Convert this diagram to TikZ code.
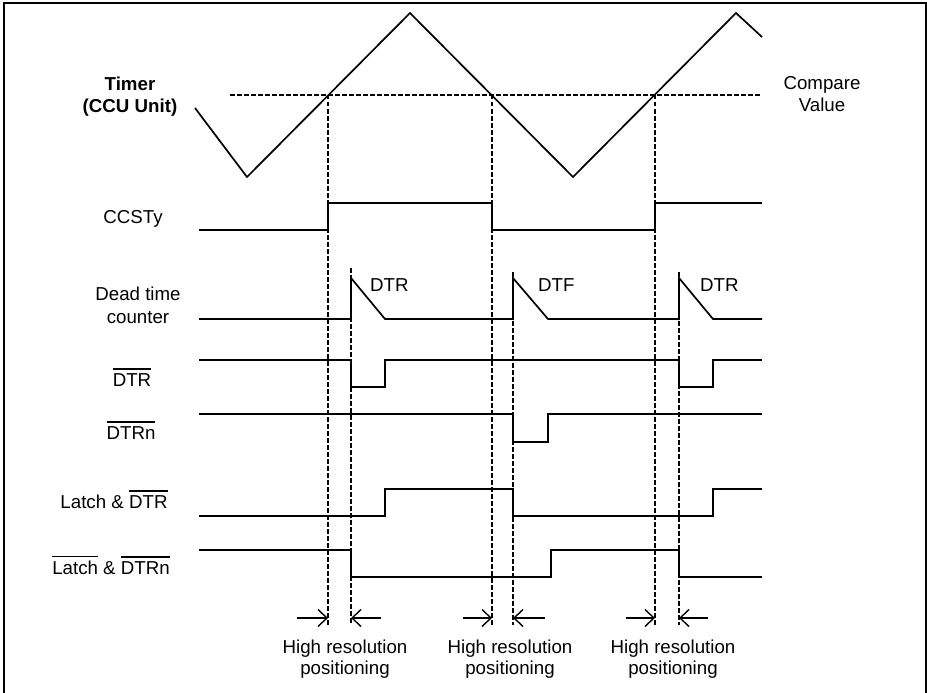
\documentclass[tikz,border=0pt]{standalone}
\usepackage{fontspec}
\setmainfont{Liberation Sans}
\usetikzlibrary{arrows.meta}
\newcommand\ovl[1]{\leavevmode\vbox{\hrule height 1.8pt\kern 3pt\hbox{#1}}}
\begin{document}
\begin{tikzpicture}[x=1pt,y=-1pt,
  sig/.style={line width=1.7pt, line join=miter},
  dsh/.style={line width=1.1pt, dash pattern=on 4.5pt off 2.5pt},
  lbl/.style={font=\fontsize{18.7}{21}\selectfont, inner sep=0pt, anchor=base},
  hr/.style={-{Straight Barb[length=9pt,width=17pt,line width=1.4pt]}, line width=1.4pt}]
\useasboundingbox (0,0) rectangle (927,693);
\draw[line width=1.8pt] (4,710) -- (4,3) -- (926,3) -- (926,710);

% coordinates of the timing edges
\coordinate (c1) at (328,95);
\coordinate (c2) at (492,95);
\coordinate (c3) at (655,95);
\coordinate (d1) at (351,268);
\coordinate (d2) at (513,272);
\coordinate (d3) at (679,272);

% timer triangle and compare value
\draw[dsh] (230,95) -- (762,95);
\draw[sig] (195,108) -- (247,177) -- (410,13) -- (573,177) -- (736,13) -- (762,37);
\node[lbl, font=\fontsize{18.7}{21}\selectfont\bfseries] (timer1) at (130,91) {Timer};
\node[lbl, font=\fontsize{18.7}{21}\selectfont\bfseries] (timer2) at (130,112) {(CCU Unit)};
\node[lbl] (cmp1) at (822,89) {Compare};
\node[lbl] (cmp2) at (822,111) {Value};

% dashed verticals
\draw[dsh] (c1) -- (328,625);
\draw[dsh] (c2) -- (492,625);
\draw[dsh] (c3) -- (655,625);
\draw[dsh] (d1) -- (351,625);
\draw[dsh] (d2) -- (513,625);
\draw[dsh] (d3) -- (679,625);

% CCSTy
\node[lbl] (ccsty) at (133,223) {CCSTy};
\draw[sig] (199,230) -- (328,230) -- (328,203) -- (492,203) -- (492,230) -- (655,230) -- (655,203) -- (762,203);

% Dead time counter
\node[lbl] (dtc1) at (138,300) {Dead time};
\node[lbl] (dtc2) at (138,323) {counter};
\draw[sig] (199,319) -- (351,319) -- (351,278) -- (385,319) -- (513,319) -- (513,278) -- (548,319) -- (679,319) -- (679,278) -- (713,319) -- (762,319);
\node[lbl, anchor=base west] (lr1) at (370,291) {DTR};
\node[lbl, anchor=base west] (lf) at (538,291) {DTF};
\node[lbl, anchor=base west] (lr2) at (700,291) {DTR};

% DTR bar
\node[lbl] (dtrb) at (132,386) {\ovl{DTR}};
\draw[sig] (199,360) -- (351,360) -- (351,387) -- (385,387) -- (385,360) -- (679,360) -- (679,387) -- (713,387) -- (713,360) -- (762,360);

% DTRn bar
\node[lbl] (dtrnb) at (131,439) {\ovl{DTRn}};
\draw[sig] (199,414) -- (513,414) -- (513,442) -- (548,442) -- (548,414) -- (762,414);

% Latch & DTR bar
\node[lbl] (ld) at (114,508) {Latch \& \ovl{DTR}};
\draw[sig] (199,516) -- (385,516) -- (385,489) -- (513,489) -- (513,516) -- (713,516) -- (713,489) -- (762,489);

% Latch bar & DTRn bar
\node[lbl] (ldn) at (111,574) {\ovl{Latch} \& \ovl{DTRn}};
\draw[sig] (199,550) -- (351,550) -- (351,577) -- (551,577) -- (551,550) -- (679,550) -- (679,577) -- (762,577);

% high resolution arrows
\draw[hr] (297,618) -- (328,618);
\draw[hr] (381,618) -- (351,618);
\draw[hr] (463,618) -- (492,618);
\draw[hr] (545,618) -- (513,618);
\draw[hr] (626,618) -- (655,618);
\draw[hr] (708,618) -- (679,618);

\node[lbl] (hr1a) at (345,653) {High resolution};
\node[lbl] (hr1b) at (345,674) {positioning};
\node[lbl] (hr2a) at (510,653) {High resolution};
\node[lbl] (hr2b) at (510,674) {positioning};
\node[lbl] (hr3a) at (673,653) {High resolution};
\node[lbl] (hr3b) at (673,674) {positioning};
\end{tikzpicture}
\end{document}
